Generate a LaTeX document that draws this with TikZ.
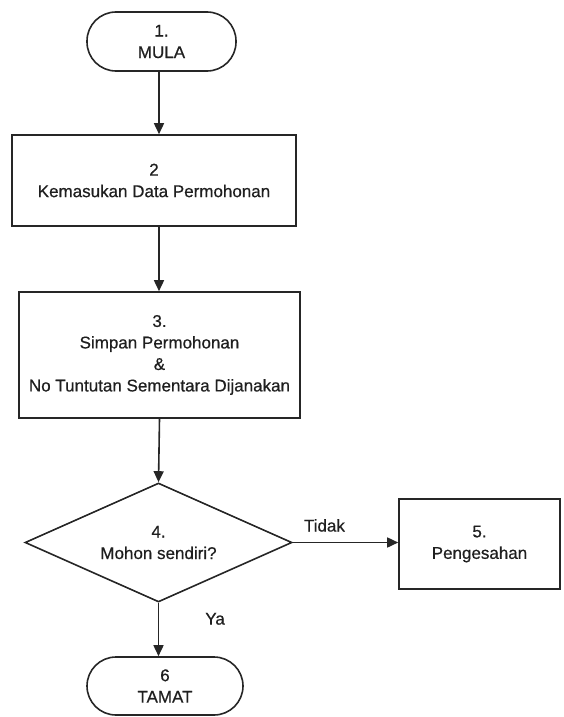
\documentclass[tikz,border=0pt]{standalone}
\usepackage{fontspec}
\setmainfont{Liberation Sans}[FakeBold=0.6]
\usetikzlibrary{shapes.geometric,arrows.meta}
\begin{document}
\begin{tikzpicture}[x=1pt,y=-1pt,
  every node/.style={font=\fontsize{17}{21.5}\selectfont, text=black!88},
  shp/.style={draw=black!85, line width=1.6pt, inner sep=0pt, align=center},
  term/.style={shp, rectangle, rounded corners=29pt},
  proc/.style={shp, rectangle},
  dec/.style={shp, diamond, aspect=2.24},
  conn/.style={draw=black!85, line width=1.6pt, -{Triangle[length=11pt,width=10pt]}},
  lbl/.style={inner sep=0pt}
]
\useasboundingbox (0,0) rectangle (563,717);
\node[term, minimum width=149pt, minimum height=59pt] (start) at (161.5,41.5) {1.\\MULA};
\node[proc, minimum width=284pt, minimum height=91pt] (b2) at (154,180.5) {2\\Kemasukan Data Permohonan};
\node[proc, minimum width=281pt, minimum height=126pt] (b3) at (159.5,355) {3.\\Simpan Permohonan\\\&\\No Tuntutan Sementara Dijanakan};
\node[dec, minimum width=267pt, minimum height=119pt] (d4) at (158.5,542.5) {4.\\Mohon sendiri?};
\node[proc, minimum width=161pt, minimum height=90pt] (b5) at (479.5,544) {5.\\Pengesahan};
\node[term, minimum width=156pt, minimum height=58pt] (end) at (165,686) {6\\TAMAT};
\draw[conn] (159,71) coordinate (s1) -- (s1 |- b2.north);
\draw[conn] (159,226) coordinate (s2) -- (s2 |- b3.north);
\draw[conn] (b3.south) -- (d4.north);
\draw[conn] (d4.east) -- (d4.east -| b5.west) node[lbl, pos=0.3, above=10pt] {Tidak};
\draw[conn] (d4.south) -- (d4.south |- end.north) node[lbl, pos=0.3, right=46pt] {Ya};
\end{tikzpicture}
\end{document}
